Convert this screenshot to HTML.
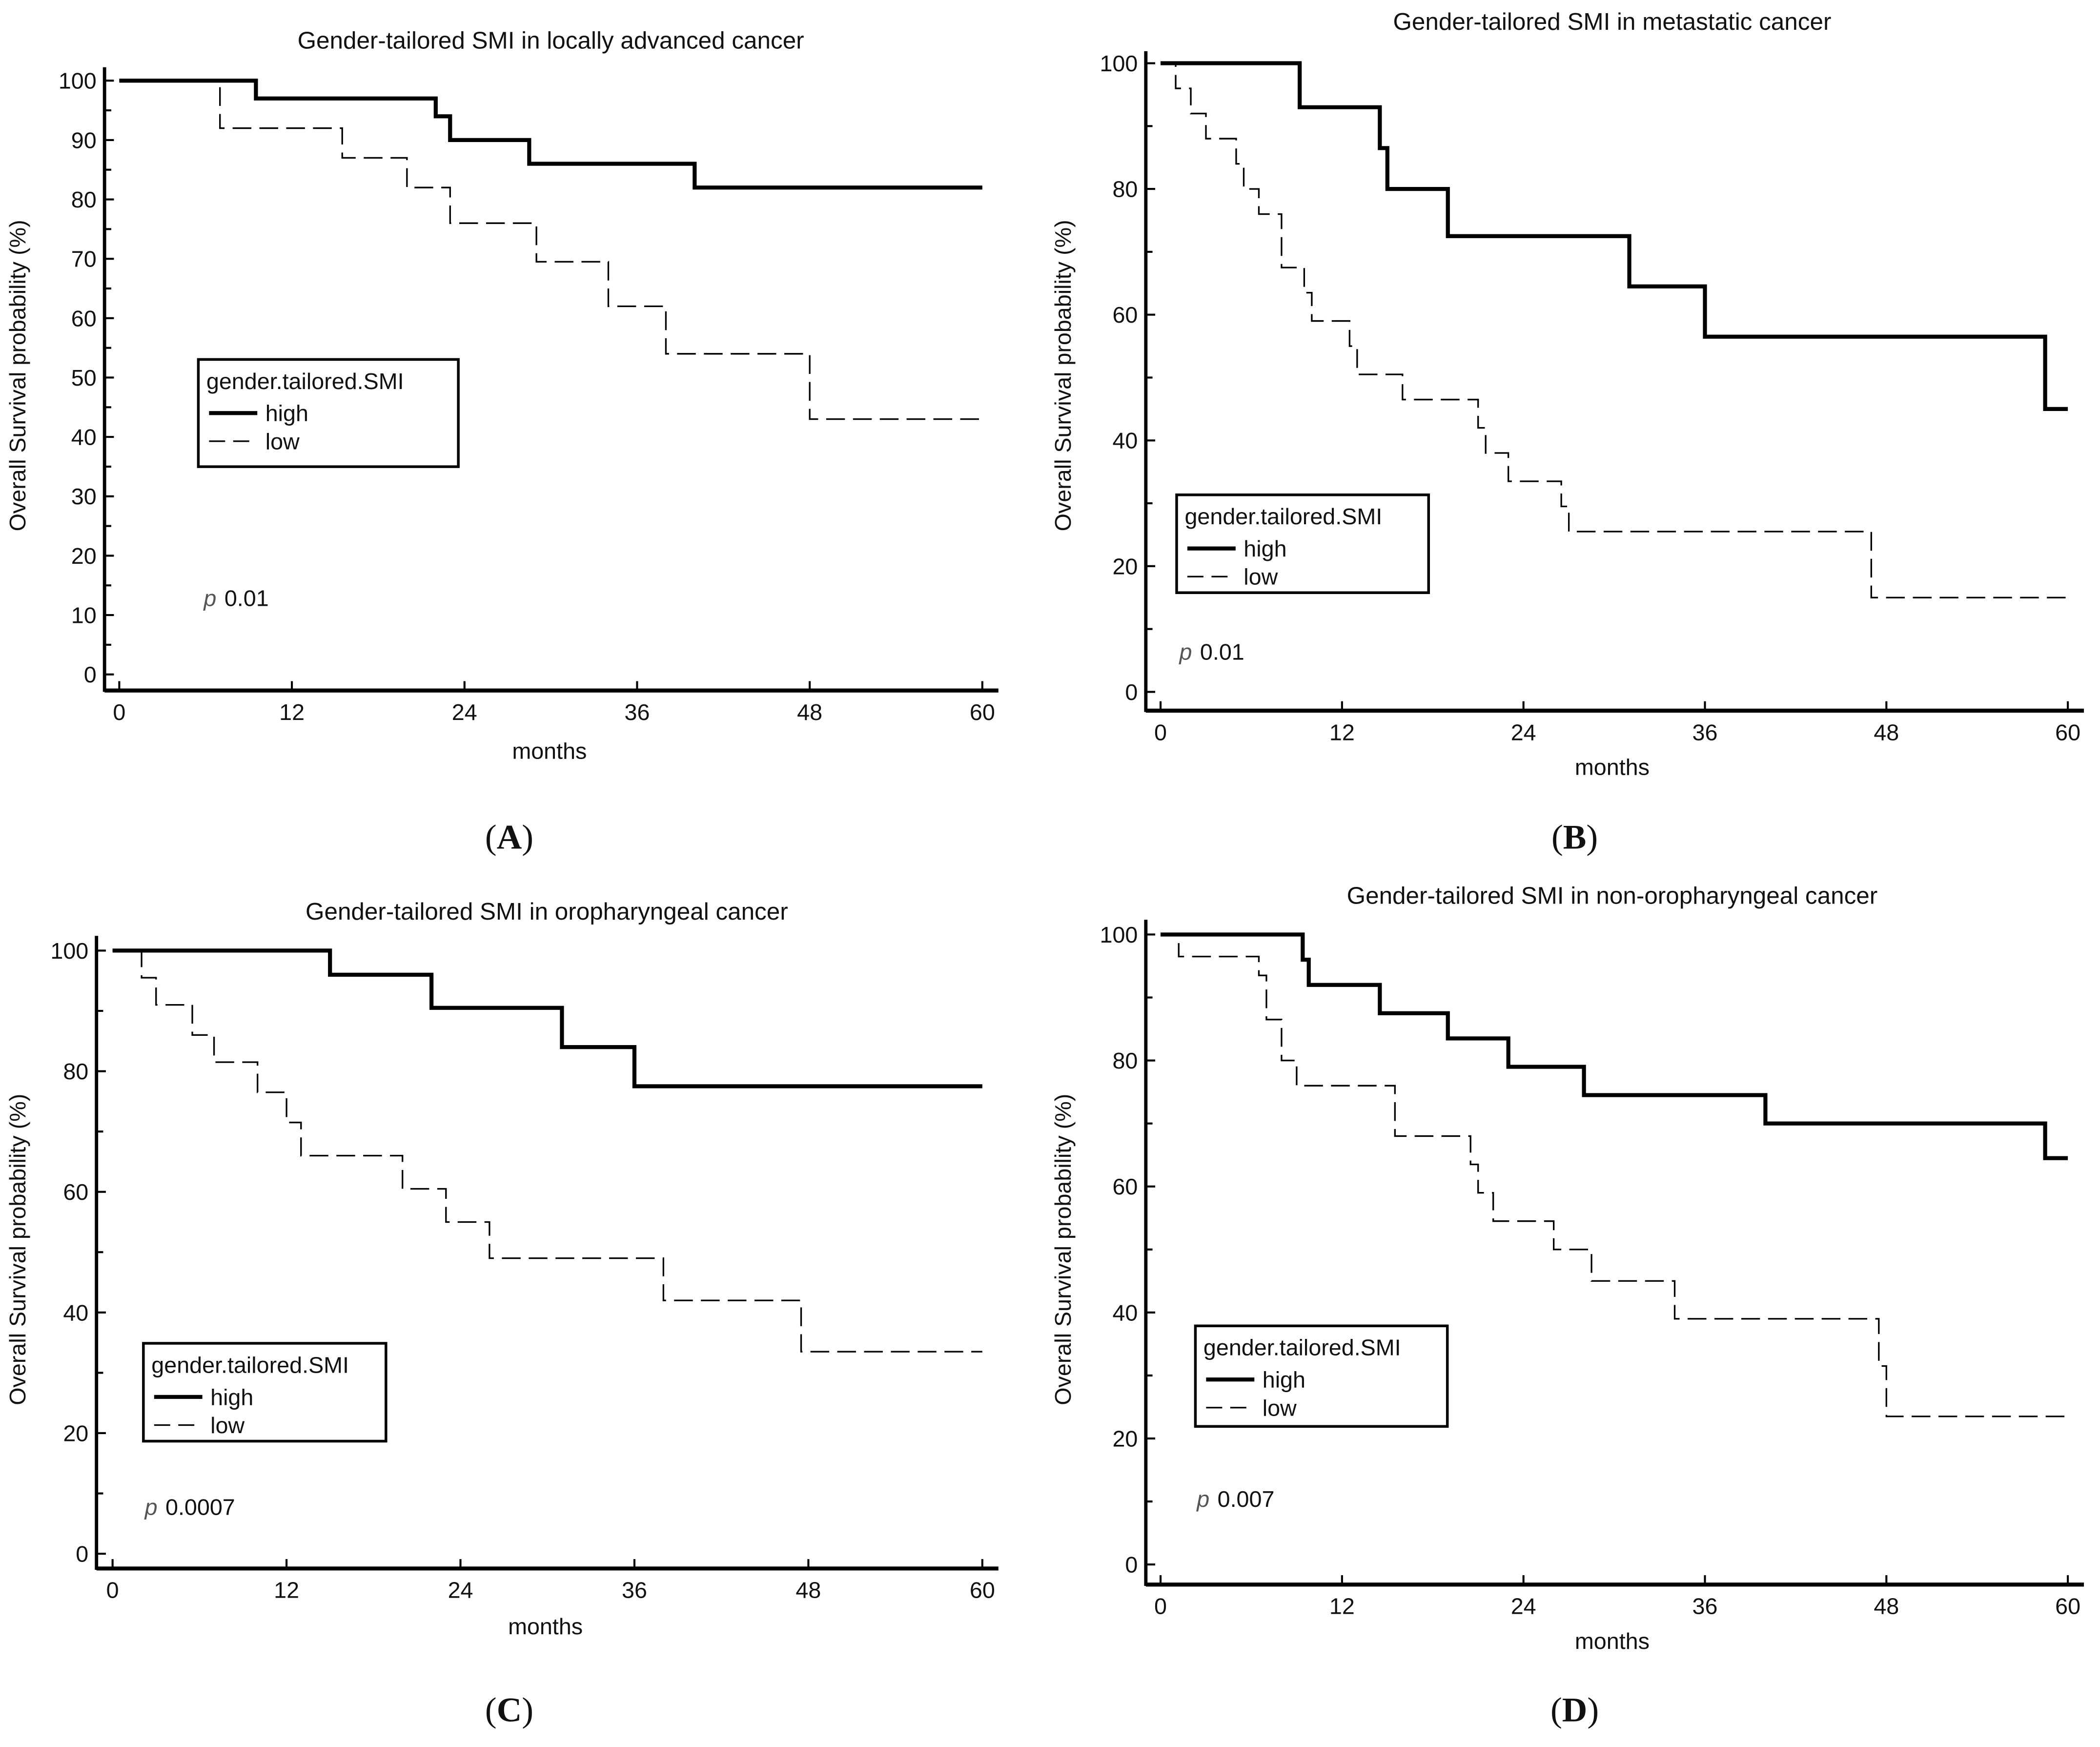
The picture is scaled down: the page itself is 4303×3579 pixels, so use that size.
<!DOCTYPE html>
<html><head><meta charset="utf-8"><style>
html,body{margin:0;padding:0;background:#fff;}
svg{display:block;}
text{font-family:"Liberation Sans",sans-serif;fill:#111;}
</style></head><body>
<svg id="fig" width="4303" height="3579" viewBox="0 0 1567 1303" xmlns="http://www.w3.org/2000/svg"></svg>
<script>
// Panel A data
const aHighT=[0,9.5,22,23,28.5,40,60];
const aHighS=[100,97,94,90,86,82,82];
const aLowT=[0,7,15.5,20,23,29,34,38,48,60];
const aLowS=[100,92,87,82,76,69.5,62,54,43,43];
const aYTicks=[0,10,20,30,40,50,60,70,80,90,100];
// Panel B data
const bHighT=[0,9.2,14.5,15,19,31,36,58.5,60];
const bHighS=[100,93,86.5,80,72.5,64.5,56.5,45,45];
const bLowT=[0,1,2,3,5,5.5,6.5,8,9.5,10,12.5,13,16,21,21.5,23,26.5,27,47,60];
const bLowS=[100,96,92,88,84,80,76,67.5,63.5,59,55,50.5,46.5,42,38,33.5,29.5,25.5,15,15];
const bYTicks=[0,20,40,60,80,100];
// Panel C data
const cHighT=[0,15,22,31,36,60];
const cHighS=[100,96,90.5,84,77.5,77.5];
const cLowT=[0,2,3,5.5,7,10,12,13,20,23,26,38,47.5,60];
const cLowS=[100,95.5,91,86,81.5,76.5,71.5,66,60.5,55,49,42,33.5,33.5];
const cYTicks=[0,20,40,60,80,100];
// Panel D data
const dHighT=[0,9.4,9.8,14.5,19,23,28,40,58.5,60];
const dHighS=[100,96,92,87.5,83.5,79,74.5,70,64.5,64.5];
const dLowT=[0,1.2,6.5,7,8,9,15.5,20.5,21,22,26,28.5,34,47.5,48,60];
const dLowS=[100,96.5,93.5,86.5,80,76,68,63.5,59,54.5,50,45,39,31.5,23.5,23.5];
const dYTicks=[0,20,40,60,80,100];
const xTicks=[0,12,24,36,48,60];

const NS="http://www.w3.org/2000/svg";
const svg=document.getElementById('fig');
function mk(tag,attrs,parent){const e=document.createElementNS(NS,tag);for(const k in attrs)e.setAttribute(k,attrs[k]);(parent||svg).appendChild(e);return e;}

const panels=[
 {id:'a',title:'Gender-tailored SMI in locally advanced cancer',titleX:411,titleY:36,ax:78,axTop:50,ay:515,x0:89,x1:733,y0:503,y1:60,yT:aYTicks,minor:5,hT:aHighT,hS:aHighS,lT:aLowT,lS:aLowS,
  leg:[148,268,194,80],p:[152,452,'0.01'],months:[410,566],ylab:[19,280],letter:['A',380,633]},
 {id:'b',title:'Gender-tailored SMI in metastatic cancer',titleX:1203,titleY:22,ax:855,axTop:38,ay:530,x0:866,x1:1543,y0:516,y1:47,yT:bYTicks,minor:10,hT:bHighT,hS:bHighS,lT:bLowT,lS:bLowS,
  leg:[878,369,188,73],p:[880,492,'0.01'],months:[1203,578],ylab:[799,280],letter:['B',1175,633]},
 {id:'c',title:'Gender-tailored SMI in oropharyngeal cancer',titleX:408,titleY:686,ax:72,axTop:698,ay:1170,x0:84,x1:733,y0:1159,y1:709,yT:cYTicks,minor:10,hT:cHighT,hS:cHighS,lT:cLowT,lS:cLowS,
  leg:[107,1002,181,73],p:[108,1130,'0.0007'],months:[407,1219],ylab:[19,932],letter:['C',380,1284]},
 {id:'d',title:'Gender-tailored SMI in non-oropharyngeal cancer',titleX:1203,titleY:674,ax:855,axTop:686,ay:1182,x0:866,x1:1543,y0:1167,y1:697,yT:dYTicks,minor:10,hT:dHighT,hS:dHighS,lT:dLowT,lS:dLowS,
  leg:[892,989,188,75],p:[893,1124,'0.007'],months:[1203,1230],ylab:[799,932],letter:['D',1175,1284]}
];

panels.forEach(P=>{
  const g=mk('g',{});
  
  
  const xs=v=>P.x0+(P.x1-P.x0)*v/60;
  const ys=v=>P.y0+(P.y1-P.y0)*v/100;
  const t=mk('text',{x:P.titleX,y:P.titleY,'text-anchor':'middle','font-size':18},g);t.textContent=P.title;
  
  
  const ya=mk('line',{x1:P.ax,y1:P.axTop,x2:P.ax,y2:P.ay+1,stroke:'#000','stroke-width':2.5},g);
  
  
  for(let v=0;v<=100;v+=P.minor){
    const y=ys(v);const major=P.yT.indexOf(v)>=0;
    mk('line',{x1:P.ax,y1:y,x2:P.ax+(major?7:5),y2:y,stroke:'#000','stroke-width':1.5},g);
  }
  P.yT.forEach(v=>{const tt=mk('text',{x:P.ax-6,y:ys(v)+6,'text-anchor':'end','font-size':17},g);tt.textContent=v;
    
    });
  const xa=mk('line',{x1:P.ax,y1:P.ay,x2:P.x1+12,y2:P.ay,stroke:'#000','stroke-width':3},g);
  
  
  xTicks.forEach(v=>{const x=xs(v);mk('line',{x1:x,y1:P.ay,x2:x,y2:P.ay-7,stroke:'#000','stroke-width':1.5},g);
    const tt=mk('text',{x:x,y:P.ay+22,'text-anchor':'middle','font-size':17},g);tt.textContent=v;
    
    });
  const ml=mk('text',{x:P.months[0],y:P.months[1],'text-anchor':'middle','font-size':17},g);ml.textContent='months';
  
  
  const yl=mk('text',{x:0,y:0,'text-anchor':'middle','font-size':17,transform:`translate(${P.ylab[0]},${P.ylab[1]}) rotate(-90)`},g);yl.textContent='Overall Survival probability (%)';
  
  
  function step(T,S){let d=`M${xs(T[0])},${ys(S[0])}`;for(let i=1;i<T.length;i++){d+=`H${xs(T[i])}V${ys(S[i])}`;}return d;}
  const lo=mk('path',{d:step(P.lT,P.lS),fill:'none',stroke:'#000','stroke-width':1.2,'stroke-dasharray':'14,6'},g);
  
  
  const hi=mk('path',{d:step(P.hT,P.hS),fill:'none',stroke:'#000','stroke-width':3},g);
  
  
  const [lx,ly,lw,lh]=P.leg;
  const lg=mk('g',{},g);
  
  
  mk('rect',{x:lx,y:ly,width:lw,height:lh,fill:'#fff',stroke:'#000','stroke-width':2},lg);
  const lt=mk('text',{x:lx+6,y:ly+22,'font-size':17},lg);lt.textContent='gender.tailored.SMI';
  mk('line',{x1:lx+8,y1:ly+40,x2:lx+44,y2:ly+40,stroke:'#000','stroke-width':3},lg);
  const h=mk('text',{x:lx+50,y:ly+46,'font-size':17},lg);h.textContent='high';
  
  
  mk('line',{x1:lx+8,y1:ly+61,x2:lx+44,y2:ly+61,stroke:'#000','stroke-width':1.2,'stroke-dasharray':'12,6'},lg);
  const l=mk('text',{x:lx+50,y:ly+67,'font-size':17},lg);l.textContent='low';
  
  
  const pt=mk('text',{x:P.p[0],y:P.p[1],'font-size':17},g);
  
  
  const pi=mk('tspan',{'font-style':'italic',fill:'#555'},pt);pi.textContent='p';
  const pv=mk('tspan',{dx:6},pt);pv.textContent=P.p[2];
  const lt2=mk('text',{x:P.letter[1],y:P.letter[2],'text-anchor':'middle','font-size':26,style:'font-family:"Liberation Serif",serif'},g);
  
  
  const a1=mk('tspan',{},lt2);a1.textContent='(';
  const a2=mk('tspan',{'font-weight':'bold'},lt2);a2.textContent=P.letter[0];
  const a3=mk('tspan',{},lt2);a3.textContent=')';
});
</script>
</body></html>
